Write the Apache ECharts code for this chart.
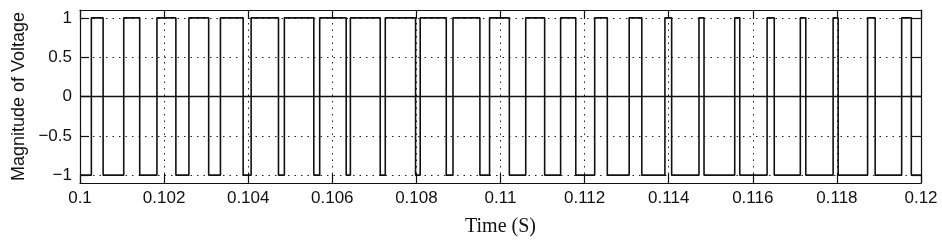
<!DOCTYPE html>
<html>
<head>
<meta charset="utf-8">
<script src="https://cdn.jsdelivr.net/npm/echarts@6/dist/echarts.min.js"></script>
<style>
  html, body { margin: 0; padding: 0; background: #fff; }
  #chart { width: 942px; height: 242px; }
</style>
</head>
<body>
<div id="chart"></div>
<script>
// ---- data ----
const xTickValues = [0.1, 0.102, 0.104, 0.106, 0.108, 0.11, 0.112, 0.114, 0.116, 0.118, 0.12];
const xTickLabels = ['0.1', '0.102', '0.104', '0.106', '0.108', '0.11', '0.112', '0.114', '0.116', '0.118', '0.12'];
const yTickValues = [-1, -0.5, 0, 0.5, 1];
const yTickLabels = ['\u22121', '\u22120.5', '0', '0.5', '1'];

// PWM waveform: level at start, then the times at which it toggles between -1 and +1
const pwmStartTime = 0.1;
const pwmEndTime = 0.12;
const pwmStartLevel = -1;
const pwmSwitchTimes = [
  0.10027, 0.10055, 0.10104, 0.10142, 0.10183,
  0.10228, 0.10259, 0.10306, 0.10334, 0.10388,
  0.10407, 0.10472, 0.10486, 0.10556, 0.10570,
  0.10633, 0.10643, 0.10714, 0.10726, 0.10798,
  0.10809, 0.10871, 0.10887, 0.10951, 0.10974,
  0.11021, 0.11060, 0.11105, 0.11143, 0.11179,
  0.11224, 0.11254, 0.11306, 0.11336, 0.11391,
  0.11407, 0.11472, 0.11484, 0.11557, 0.11569,
  0.11634, 0.11651, 0.11713, 0.11726, 0.11791,
  0.11803, 0.11873, 0.11891, 0.11954, 0.11977
];
// zero reference line
const zeroLineTimes = [0.1, 0.12];
const zeroLineValues = [0, 0];

// ---- build series data from the arrays ----
const pwmData = [];
let level = pwmStartLevel;
pwmData.push([pwmStartTime, level]);
for (const t of pwmSwitchTimes) {
  pwmData.push([t, level]);
  level = -level;
  pwmData.push([t, level]);
}
pwmData.push([pwmEndTime, level]);
const zeroData = zeroLineTimes.map((t, i) => [t, zeroLineValues[i]]);

const font = 'Liberation Sans, Arial, Helvetica, sans-serif';
const dotted = { color: '#222', width: 1, type: [1.5, 5] };
const frame = { color: '#111', width: 1.2 };

function xLabel(v) {
  const i = xTickValues.findIndex(t => Math.abs(t - v) < 1e-9);
  return i >= 0 ? xTickLabels[i] : '';
}
function yLabel(v) {
  const i = yTickValues.findIndex(t => Math.abs(t - v) < 1e-9);
  return i >= 0 ? yTickLabels[i] : '';
}

const chart = echarts.init(document.getElementById('chart'), null, { renderer: 'canvas' });
chart.setOption({
  animation: false,
  backgroundColor: '#fff',
  grid: { left: 80, right: 21, top: 10, bottom: 51, show: false },
  xAxis: [
    {
      type: 'value', min: 0.1, max: 0.12, interval: 0.002, position: 'bottom',
      name: 'Time (S)', nameLocation: 'middle', nameGap: 34,
      nameTextStyle: { fontFamily: 'Liberation Serif, Times New Roman, serif', fontSize: 20, color: '#111' },
      axisLine: { show: true, onZero: false, lineStyle: frame },
      axisTick: { show: true, inside: true, length: 9, lineStyle: frame },
      axisLabel: { formatter: xLabel, fontFamily: font, fontSize: 17, color: '#111', margin: 7 },
      splitLine: { show: true, lineStyle: dotted }
    },
    {
      type: 'value', min: 0.1, max: 0.12, interval: 0.002, position: 'top',
      axisLine: { show: true, onZero: false, lineStyle: frame },
      axisTick: { show: true, inside: true, length: 9, lineStyle: frame },
      axisLabel: { show: false },
      splitLine: { show: false }
    }
  ],
  yAxis: [
    {
      type: 'value', min: -1.1, max: 1.1, position: 'left',
      name: 'Magnitude of Voltage', nameLocation: 'middle', nameGap: 40,
      nameTextStyle: { fontFamily: font, fontSize: 18, color: '#111' },
      axisLine: { show: true, onZero: false, lineStyle: frame },
      axisTick: { show: true, inside: true, length: 9, lineStyle: frame, customValues: yTickValues },
      axisLabel: { formatter: yLabel, customValues: yTickValues, fontFamily: font, fontSize: 17, color: '#111', margin: 8 },
      splitLine: { show: true, lineStyle: dotted }
    },
    {
      type: 'value', min: -1.1, max: 1.1, position: 'right',
      axisLine: { show: true, onZero: false, lineStyle: frame },
      axisTick: { show: true, inside: true, length: 9, lineStyle: frame, customValues: yTickValues },
      axisLabel: { show: false, customValues: yTickValues },
      splitLine: { show: false }
    }
  ],
  series: [
    {
      name: 'Zero', type: 'line', xAxisIndex: 0, yAxisIndex: 0,
      data: zeroData, showSymbol: false, symbol: 'none',
      lineStyle: { color: '#111', width: 1.3 }, z: 3
    },
    {
      name: 'PWM voltage', type: 'line', xAxisIndex: 0, yAxisIndex: 0,
      data: pwmData, showSymbol: false, symbol: 'none',
      lineStyle: { color: '#111', width: 1.6 }, z: 4
    }
  ]
});
</script>
</body>
</html>
